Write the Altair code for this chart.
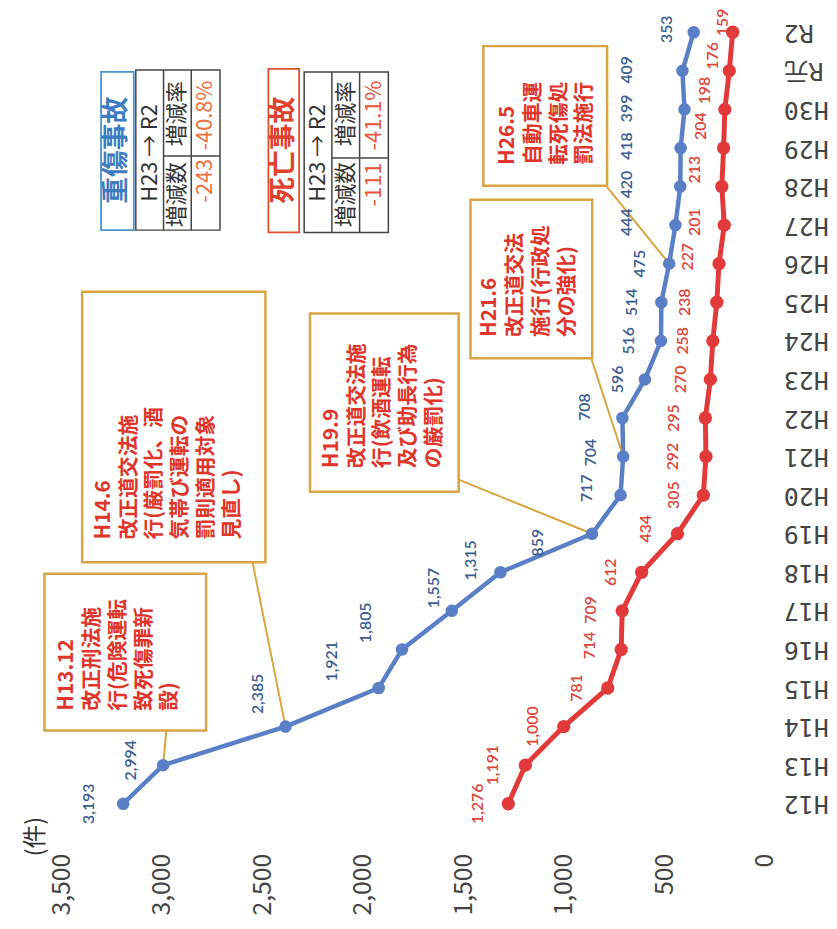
import json
import altair as alt
import pandas as pd

# ---------------- data ----------------
years = ["H12", "H13", "H14", "H15", "H16", "H17", "H18", "H19", "H20", "H21",
         "H22", "H23", "H24", "H25", "H26", "H27", "H28", "H29", "H30", "R元", "R2"]
serious = [3193, 2994, 2385, 1921, 1805, 1557, 1315, 859, 717, 704,
           708, 596, 516, 514, 475, 444, 420, 418, 399, 409, 353]
fatal = [1276, 1191, 1000, 781, 714, 709, 612, 434, 305, 292,
         295, 270, 258, 238, 227, 201, 213, 204, 198, 176, 159]
count_ticks = [0, 500, 1000, 1500, 2000, 2500, 3000, 3500]

# label offsets in screen pixels (dx: left negative, dy: up negative)
serious_off = [(-34, 0), (-32, -5), (-28, -33), (-47, -27), (-36, -27), (-18, -23), (-30, -12),
               (-55, 9), (-34, -7), (-32, -4), (-38, -11), (-27, 0), (-32, 0), (-30, 0),
               (-29, 0), (-49, -3), (-54, -2), (-54, -2), (-58, -1), (-56, -1), (-27, -3)]
fatal_off = [(-31, 0), (-33, 0), (-31, 0), (-31, 0), (-31, -4), (-31, -1), (-31, 0),
             (-32, -5), (-30, 0), (-33, 0), (-32, 0), (-30, 0), (-30, 0), (-32, 0),
             (-31, -7), (-29, -3), (-27, -17), (-23, -22), (-20, -19), (-16, -15), (-10, -10)]

# ---------------- layout / scales ----------------
W, H = 780, 845
X_DOMAIN = [-78.9, 3766.2]
Y_DOMAIN = [-1.181, 20.513]
KX = (X_DOMAIN[1] - X_DOMAIN[0]) / W   # data per px
KY = (Y_DOMAIN[1] - Y_DOMAIN[0]) / H   # index per px

xs = alt.Scale(domain=X_DOMAIN, reverse=True, nice=False, zero=False)
ys = alt.Scale(domain=Y_DOMAIN, nice=False, zero=False)

FONT_JP = "Noto Sans CJK JP"
BLUE = "#5b7fc6"
BLUE_TXT = "#3b5d92"
RED = "#e23a3a"
RED_TXT = "#dc4538"
GOLD = "#d9a441"
ANN_RED = "#e0352b"

x_axis = alt.Axis(values=count_ticks, labelExpr="format(datum.value, ',')",
                  labelAngle=270, labelAlign="right", labelBaseline="middle",
                  labelFont=FONT_JP, labelFontSize=25, labelColor="#444",
                  domain=False, ticks=False, grid=False, labelPadding=4,
                  labelFlush=False, labelOverlap=False, title=None)
y_axis = alt.Axis(values=list(range(len(years))), orient="right",
                  labelExpr=json.dumps(years, ensure_ascii=False) + "[datum.value]",
                  labelAngle=180, labelAlign="right", labelBaseline="middle",
                  labelFont="DejaVu Sans Mono, Noto Sans CJK JP", labelFontSize=25,
                  labelColor="#444", domain=False, ticks=False, grid=False,
                  labelPadding=3, labelFlush=False, labelOverlap=False, title=None)


def X(f):
    return alt.X(f, type="quantitative", scale=xs, axis=x_axis, title=None)


def Y(f):
    return alt.Y(f, type="quantitative", scale=ys, axis=y_axis, title=None)


def series_df(vals, offs):
    rows = []
    for i, (v, (dx, dy)) in enumerate(zip(vals, offs)):
        rows.append({"idx": i, "year": years[i], "value": v, "label": f"{v:,}",
                     "lx": v - dx * KX, "ly": i - dy * KY})
    return pd.DataFrame(rows)


sdf = series_df(serious, serious_off)
fdf = series_df(fatal, fatal_off)

# ---------------- legend tables ----------------
title_boxes = pd.DataFrame([
    {"x1": 3303, "x2": 3140, "y1": 14.87, "y2": 18.97, "c": "#4b94d0"},
    {"x1": 2470, "x2": 2317, "y1": 14.81, "y2": 19.05, "c": "#e0502e"},
])
tables = pd.DataFrame([
    {"x1": 3130, "x2": 2711, "y1": 14.87, "y2": 19.02},
    {"x1": 2292, "x2": 1873, "y1": 14.81, "y2": 18.97},
])
table_rules = pd.DataFrame([
    {"x1": 2992, "x2": 2992, "y1": 14.87, "y2": 19.02},
    {"x1": 2854, "x2": 2854, "y1": 14.87, "y2": 19.02},
    {"x1": 2992, "x2": 2711, "y1": 16.79, "y2": 16.79},
    {"x1": 2154, "x2": 2154, "y1": 14.81, "y2": 18.97},
    {"x1": 2016, "x2": 2016, "y1": 14.81, "y2": 18.97},
    {"x1": 2154, "x2": 1873, "y1": 16.74, "y2": 16.74},
])
legend_titles = pd.DataFrame([
    {"x": 3221, "y": 16.94, "t": "重傷事故", "c": "#3d7cc0"},
    {"x": 2393, "y": 16.94, "t": "死亡事故", "c": "#e0402c"},
])
legend_texts = pd.DataFrame([
    {"x": 3061, "y": 16.87, "t": "H23 → R2", "c": "#333333"},
    {"x": 2923, "y": 17.89, "t": "増減率", "c": "#333333"},
    {"x": 2923, "y": 15.79, "t": "増減数", "c": "#333333"},
    {"x": 2783, "y": 17.84, "t": "-40.8%", "c": "#ec6f3c"},
    {"x": 2783, "y": 16.15, "t": "-243", "c": "#ec6f3c"},
    {"x": 2223, "y": 16.87, "t": "H23 → R2", "c": "#333333"},
    {"x": 2085, "y": 17.89, "t": "増減率", "c": "#333333"},
    {"x": 2085, "y": 15.79, "t": "増減数", "c": "#333333"},
    {"x": 1945, "y": 17.84, "t": "-41.1%", "c": "#e8553a"},
    {"x": 1945, "y": 16.05, "t": "-111", "c": "#e8553a"},
])

# ---------------- annotation boxes ----------------
boxes = pd.DataFrame([
    {"x1": 3585, "x2": 2780, "y1": 1.90, "y2": 5.96},
    {"x1": 3397, "x2": 2485, "y1": 6.26, "y2": 13.27},
    {"x1": 2263, "x2": 1523, "y1": 8.09, "y2": 12.71},
    {"x1": 1464, "x2": 858, "y1": 11.55, "y2": 15.66},
    {"x1": 1400, "x2": 784, "y1": 16.02, "y2": 19.64},
])
leaders = pd.DataFrame([
    {"x1": 2978, "y1": 1.90, "x2": serious[1], "y2": 1},
    {"x1": 2549, "y1": 6.26, "x2": serious[2], "y2": 2},
    {"x1": 1523, "y1": 8.40, "x2": serious[7], "y2": 7},
    {"x1": 863, "y1": 11.55, "x2": serious[9], "y2": 9},
    {"x1": 789, "y1": 16.02, "x2": serious[14], "y2": 14},
])
# anchor = first line of each note (lines stack to the right)
notes = pd.DataFrame([
    {"x": 3470, "y": 2.41, "t": "H13.12\n改正刑法施\n行(危険運転\n致死傷罪新\n設)"},
    {"x": 3288, "y": 6.85, "t": "H14.6\n改正道交法施\n行(厳罰化、酒\n気帯び運転の\n罰則適用対象\n見直し)"},
    {"x": 2154, "y": 8.70, "t": "H19.9\n改正道交法施\n行(飲酒運転\n及び助長行為\nの厳罰化)"},
    {"x": 1365, "y": 12.1, "t": "H21.6\n改正道交法\n施行(行政処\n分の強化)"},
    {"x": 1277, "y": 16.56, "t": "H26.5\n自動車運\n転死傷処\n罰法施行"},
])
unit = pd.DataFrame([{"x": 3628, "y": -0.85, "t": "(件)"}])

# ---------------- layers ----------------
l_title_boxes = alt.Chart(title_boxes).mark_rect(fill="white", strokeWidth=1.8).encode(
    x=X("x1"), x2="x2", y=Y("y1"), y2="y2",
    stroke=alt.Stroke("c:N", scale=None))
l_tables = alt.Chart(tables).mark_rect(fill="white", stroke="#444", strokeWidth=1.5).encode(
    x=X("x1"), x2="x2", y=Y("y1"), y2="y2")
l_table_rules = alt.Chart(table_rules).mark_rule(color="#444", strokeWidth=1.5).encode(
    x=X("x1"), x2="x2", y=Y("y1"), y2="y2")
l_legend_titles = alt.Chart(legend_titles).mark_text(
    angle=270, align="center", baseline="middle", font=FONT_JP, fontWeight="bold",
    fontSize=27).encode(x=X("x"), y=Y("y"), text="t:N",
                        color=alt.Color("c:N", scale=None))
l_legend_texts = alt.Chart(legend_texts).mark_text(
    angle=270, align="center", baseline="middle", font=FONT_JP, fontSize=22).encode(
    x=X("x"), y=Y("y"), text="t:N", color=alt.Color("c:N", scale=None))

l_boxes = alt.Chart(boxes).mark_rect(fill="white", stroke=GOLD, strokeWidth=2.5).encode(
    x=X("x1"), x2="x2", y=Y("y1"), y2="y2")
l_leaders = alt.Chart(leaders).mark_rule(color=GOLD, strokeWidth=2).encode(
    x=X("x1"), x2="x2", y=Y("y1"), y2="y2")
l_notes = alt.Chart(notes).mark_text(
    angle=270, align="left", baseline="middle", lineBreak="\n", lineHeight=26,
    font=FONT_JP, fontWeight="bold", fontSize=21, color=ANN_RED).encode(
    x=X("x"), y=Y("y"), text="t:N")
l_unit = alt.Chart(unit).mark_text(
    angle=270, align="center", baseline="middle", font=FONT_JP, fontSize=24,
    color="#333").encode(x=X("x"), y=Y("y"), text="t:N")

l_sline = alt.Chart(sdf).mark_line(color=BLUE, strokeWidth=4.5).encode(
    x=X("value"), y=Y("idx"), order="idx:Q")
l_spts = alt.Chart(sdf).mark_circle(color=BLUE, size=160, opacity=1).encode(
    x=X("value"), y=Y("idx"))
l_slab = alt.Chart(sdf).mark_text(
    angle=270, align="center", baseline="middle", font="Lato", fontSize=16,
    fontWeight=600, color=BLUE_TXT).encode(x=X("lx"), y=Y("ly"), text="label:N")

l_fline = alt.Chart(fdf).mark_line(color=RED, strokeWidth=5).encode(
    x=X("value"), y=Y("idx"), order="idx:Q")
l_fpts = alt.Chart(fdf).mark_circle(color=RED, size=180, opacity=1).encode(
    x=X("value"), y=Y("idx"))
l_flab = alt.Chart(fdf).mark_text(
    angle=270, align="center", baseline="middle", font="Lato", fontSize=16,
    fontWeight=600, color=RED_TXT).encode(x=X("lx"), y=Y("ly"), text="label:N")

chart = alt.layer(
    l_sline, l_title_boxes, l_tables, l_table_rules, l_legend_titles, l_legend_texts,
    l_boxes, l_leaders, l_notes, l_unit,
    l_fline, l_fpts, l_flab,
    l_spts, l_slab,
).properties(
    width=W, height=H,
    padding={"left": 0, "top": 0, "right": 49, "bottom": 76},
    autosize=alt.AutoSizeParams(type="none"),
    background="white",
).configure_view(stroke=None)

chart.save("out.html", embed_options={"renderer": "svg", "actions": False})
